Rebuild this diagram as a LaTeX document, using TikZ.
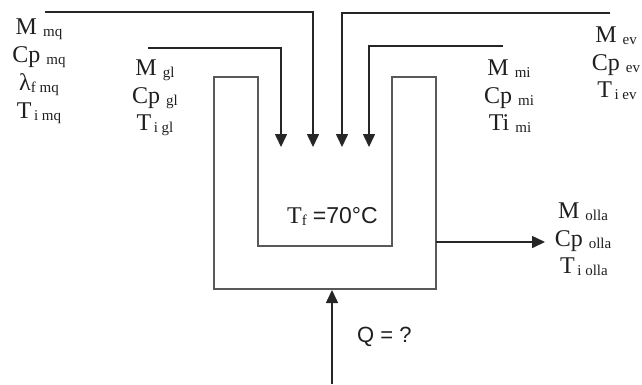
\documentclass[tikz,border=0pt]{standalone}
\usepackage{fontspec}
\setmainfont{Liberation Serif}
\newfontfamily\sansf{Liberation Sans}
\usetikzlibrary{arrows.meta}
\newcommand\lowsub[1]{\raisebox{-2.5pt}{\fontsize{15}{15}\selectfont #1}}
\begin{document}
\begin{tikzpicture}[x=1pt,y=-1pt,
  lbl/.style={anchor=base, inner sep=0pt, font=\fontsize{24}{28}\selectfont, text=black!88},
  pot/.style={draw=black!65, line width=2pt, line join=miter},
  feed/.style={draw=black!85, line width=1.6pt, -{Triangle[length=13pt,width=12pt]}},
]
\useasboundingbox (0,0) rectangle (642,384);

% pot
\draw[pot] (214,77) -- (258,77) -- (258,246) -- (392,246) -- (392,77) -- (436,77)
  -- (436,289) -- (214,289) -- cycle;

% feed lines
\coordinate (a1s) at (45,12);   \coordinate (a1e) at (313,147);
\coordinate (a2s) at (148,48);  \coordinate (a2e) at (281,147);
\coordinate (a3s) at (610,13);  \coordinate (a3e) at (342,147);
\coordinate (a4s) at (503,46);  \coordinate (a4e) at (369,147);
\draw[feed] (a1s) -| (a1e);
\draw[feed] (a2s) -| (a2e);
\draw[feed] (a3s) -| (a3e);
\draw[feed] (a4s) -| (a4e);

% out and heat
\coordinate (potR) at (436,242); \coordinate (ollaIn) at (545,242);
\draw[feed] (potR) -- (ollaIn);
\coordinate (qsrc) at (332,384); \coordinate (potB) at (332,290);
\draw[feed] (qsrc) -- (potB);

% mq block
\node[lbl] (mq1) at (39,34) {M \lowsub{mq}};
\node[lbl] (mq2) at (39,62) {Cp \lowsub{mq}};
\node[lbl] (mq3) at (39,90) {λ\lowsub{f mq}};
\node[lbl] (mq4) at (39,118) {T\lowsub{\,i mq}};

% gl block
\node[lbl] (gl1) at (155,75) {M \lowsub{gl}};
\node[lbl] (gl2) at (155,103) {Cp \lowsub{gl}};
\node[lbl] (gl3) at (155,130) {T\lowsub{\,i gl}};

% mi block
\node[lbl] (mi1) at (509,75) {M \lowsub{mi}};
\node[lbl] (mi2) at (509,103) {Cp \lowsub{mi}};
\node[lbl] (mi3) at (510,130) {Ti \lowsub{mi}};

% ev block
\node[lbl] (ev1) at (616,42) {M \lowsub{ev}};
\node[lbl] (ev2) at (616,70) {Cp \lowsub{ev}};
\node[lbl] (ev3) at (617,97) {T\lowsub{\,i ev}};

% olla block
\node[lbl] (ol1) at (583,218) {M \lowsub{olla}};
\node[lbl] (ol2) at (583,246) {Cp \lowsub{olla}};
\node[lbl] (ol3) at (584,273) {T\lowsub{\,i olla}};

% Tf
\node[lbl, anchor=base west] (tf) at (287,223) {T\lowsub{f} {\sansf\fontsize{23}{23}\selectfont =70°C}};

% Q
\node[lbl, anchor=base west, font=\sansf\fontsize{22}{22}\selectfont] (q) at (357,342) {Q = ?};
\end{tikzpicture}
\end{document}
